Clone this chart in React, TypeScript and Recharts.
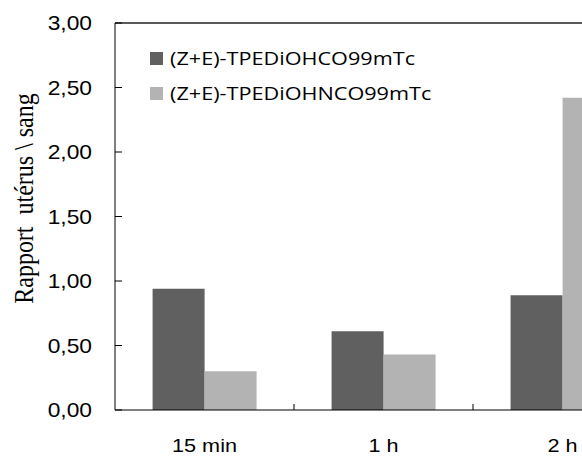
import React from 'react';
import { BarChart, Bar, XAxis, YAxis, Legend, ReferenceLine } from 'recharts';

const categories = ['15 min', '1 h', '2 h'];
const seriesNames = ['(Z+E)-TPEDiOHCO99mTc', '(Z+E)-TPEDiOHNCO99mTc'];
const seriesA = [0.94, 0.61, 0.89];
const seriesB = [0.3, 0.43, 2.42];
const yTicks = [0, 0.5, 1, 1.5, 2, 2.5, 3];
const yTitle = 'Rapport  utérus \\ sang';

const data = categories.map((c, i) => ({ cat: c, a: seriesA[i], b: seriesB[i] }));

const DARK = '#606060';
const LIGHT = '#b3b3b3';
const SX = 1.14;
const SANS = "'Liberation Sans', Arial, sans-serif";

const CHART_W = 660;
const MARGIN = { top: 23, right: 8, bottom: 7, left: 15 };
const Y_AXIS_W = 100;
const PLOT_W = CHART_W - MARGIN.left - MARGIN.right - Y_AXIS_W;

const YTick = (props: any) => {
  const { x, y, payload } = props;
  const label = Number(payload.value).toFixed(2).replace('.', ',');
  return (
    <g>
      <line x1={x} x2={x + 7} y1={y} y2={y} stroke="#000" />
      <text
        transform={`translate(${x - 23},${y + 7}) scale(${SX},1)`}
        textAnchor="end"
        fontFamily={SANS}
        fontSize={20}
        fill="#000"
      >
        {label}
      </text>
    </g>
  );
};

const XTick = (props: any) => {
  const { x, y, payload, index } = props;
  let half = PLOT_W / categories.length / 2;
  if (payload && typeof payload.offset === 'number' && payload.offset > 1) half = payload.offset;
  const bx = x - half;
  return (
    <g>
      {index > 0 && <line x1={bx} x2={bx} y1={y} y2={y - 6} stroke="#000" strokeWidth={1} />}
      <text
        transform={`translate(${x},${y + 42}) scale(${SX},1)`}
        textAnchor="middle"
        fontFamily={SANS}
        fontSize={19}
        fill="#000"
      >
        {payload.value}
      </text>
    </g>
  );
};

const YTitle = (props: any) => {
  const vb = props.viewBox || { x: 15, y: 23, width: 100, height: 387 };
  const cx = vb.x + 18;
  const cy = vb.y + vb.height / 2 - 18;
  return (
    <text
      transform={`translate(${cx},${cy}) scale(${SX},1) rotate(-90)`}
      textAnchor="middle"
      fontFamily="'Liberation Serif', 'Times New Roman', serif"
      fontSize={24}
      fill="#000"
      style={{ whiteSpace: 'pre' }}
      xmlSpace="preserve"
    >
      {yTitle}
    </text>
  );
};

const LegendContent = () => {
  const colors = [DARK, LIGHT];
  return (
    <svg width={400} height={60} style={{ display: 'block', overflow: 'visible' }}>
      {seriesNames.map((n, i) => (
        <g key={n}>
          <rect x={0} y={4 + i * 35} width={13} height={13} fill={colors[i]} />
          <text
            transform={`translate(20,${17 + i * 35}) scale(${SX},1)`}
            fontFamily="'Open Sans', sans-serif"
            fontSize={19}
            fill="#000"
          >
            {n}
          </text>
        </g>
      ))}
    </svg>
  );
};

export default function App() {
  return (
    <div
      style={{
        position: 'absolute',
        left: 0,
        top: 0,
        width: 582,
        height: 457,
        overflow: 'hidden',
        background: '#fff',
      }}
    >
      <BarChart
        width={CHART_W}
        height={457}
        data={data}
        margin={MARGIN}
        barCategoryGap="21%"
        barGap={0}
      >
        <XAxis
          dataKey="cat"
          height={40}
          interval={0}
          tickLine={false}
          tickSize={0}
          tickMargin={0}
          axisLine={{ stroke: '#000' }}
          tick={<XTick />}
        />
        <YAxis
          type="number"
          domain={[0, 3]}
          ticks={yTicks}
          interval={0}
          width={Y_AXIS_W}
          tickLine={false}
          tickSize={0}
          tickMargin={0}
          axisLine={{ stroke: '#000' }}
          tick={<YTick />}
          label={{ content: <YTitle /> }}
        />
        <ReferenceLine y={3} stroke="#5a5a5a" strokeWidth={2} />
        <Legend
          layout="vertical"
          align="center"
          verticalAlign="middle"
          wrapperStyle={{ left: 150, top: 48, width: 400, height: 60 }}
          content={<LegendContent />}
        />
        <Bar dataKey="a" name={seriesNames[0]} fill={DARK} isAnimationActive={false} />
        <Bar dataKey="b" name={seriesNames[1]} fill={LIGHT} isAnimationActive={false} />
      </BarChart>
    </div>
  );
}
